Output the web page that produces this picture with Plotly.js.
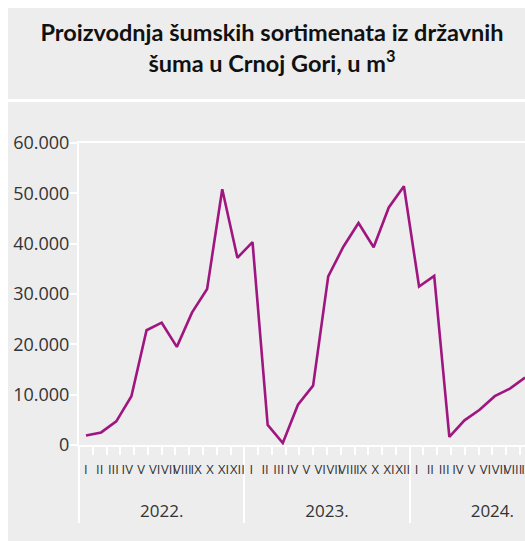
<!DOCTYPE html>
<html>
<head>
<meta charset="utf-8">
<script src="https://cdn.plot.ly/plotly-3.0.1.min.js"></script>
<style>
html,body{margin:0;padding:0;background:#fff;overflow:hidden;width:525px;height:541px;}
#chart{width:620px;height:541px;}
</style>
</head>
<body>
<div id="chart"></div>
<script>
// Data
const years = ["2022.", "2023.", "2024."];
const months = ["I","II","III","IV","V","VI","VII","VIII","IX","X","XI","XII"];
const values = [
  1900, 2500, 4700, 9700, 22800, 24300, 19500, 26300, 31000, 50800, 37200, 40300,
  4000, 400, 8000, 11800, 33500, 39400, 44100, 39300, 47200, 51400, 31500, 33600,
  1600, 4900, 7000, 9700, 11200, 13400
];

const yearStyle = y => '\u00a0<br><span style="font-size:17px">' + y + '</span>';
const monthStyle = m => '<span style="font-size:13px">' + m + '</span>';

// Full month grid (category axis)
const gridYears = [], gridMonths = [];
years.forEach(y => months.forEach(m => { gridYears.push(yearStyle(y)); gridMonths.push(monthStyle(m)); }));

// Series x positions (one per value)
const serYears = gridYears.slice(0, values.length);
const serMonths = gridMonths.slice(0, values.length);

const lineColor = '#a01680';
const txt = '#333333';

const data = [
  {
    x: [gridYears, gridMonths],
    y: gridMonths.map(() => null),
    type: 'scatter', mode: 'lines', xaxis: 'x', yaxis: 'y',
    hoverinfo: 'skip', showlegend: false
  },
  {
    x: [serYears, serMonths],
    y: values,
    type: 'scatter', mode: 'lines', xaxis: 'x2', yaxis: 'y',
    line: {color: lineColor, width: 2.6},
    showlegend: false, cliponaxis: true
  }
];

const W = 496, H = 302, L = 79, T = 143;
const px = v => (v - L) / W;
const py = v => (T + H - v) / H;

const layout = {
  width: 620, height: 541,
  margin: {l: L, r: 620 - L - W, t: T, b: 541 - T - H, pad: 0},
  paper_bgcolor: '#ffffff',
  plot_bgcolor: 'rgba(0,0,0,0)',
  separators: ',.',
  font: {family: 'Open Sans, sans-serif', color: txt},
  title: {
    text: 'Proizvodnja šumskih sortimenata iz državnih<br>šuma u Crnoj Gori, u m<sup>3</sup>',
    font: {family: 'Lato, Open Sans, sans-serif', size: 23.5, color: '#111', weight: 'bold'},
    xref: 'container', yref: 'container',
    x: 272 / 620, xanchor: 'center',
    y: 1 - 41 / 541, yanchor: 'top'
  },
  xaxis: {
    type: 'multicategory',
    range: [-0.5, 35.5],
    tickmode: 'linear', tick0: 0, dtick: 1,
    showline: true, linecolor: '#ffffff', linewidth: 2, mirror: true,
    ticks: 'outside', ticklen: 8, tickwidth: 2, tickcolor: '#ffffff',
    tickson: 'boundaries',
    ticklabelstandoff: 3,
    showgrid: false, zeroline: false,
    tickangle: 0,
    tickfont: {size: 20, color: txt, family: 'Open Sans, sans-serif'},
    showdividers: true, dividercolor: '#ffffff', dividerwidth: 2
  },
  xaxis2: {
    type: 'multicategory',
    overlaying: 'x',
    range: [-0.462, 32.3],
    visible: false
  },
  yaxis: {
    range: [0, 60000], dtick: 10000, tick0: 0,
    tickformat: ',d',
    showline: true, linecolor: '#ffffff', linewidth: 2,
    ticks: 'outside', ticklen: 8, tickwidth: 2, tickcolor: '#ffffff',
    ticklabelstandoff: -4,
    showgrid: false, zeroline: false,
    tickfont: {size: 18, color: txt, family: 'Open Sans, sans-serif'}
  },
  shapes: [
    {type: 'rect', xref: 'paper', yref: 'paper', layer: 'below',
     x0: px(8), x1: px(620), y0: py(99), y1: py(8),
     fillcolor: '#ededed', line: {width: 0}},
    {type: 'rect', xref: 'paper', yref: 'paper', layer: 'below',
     x0: px(8), x1: px(620), y0: py(541), y1: py(102),
     fillcolor: '#ededed', line: {width: 0}}
  ]
};

Plotly.newPlot('chart', data, layout, {displayModeBar: false, staticPlot: true});
</script>
</body>
</html>
